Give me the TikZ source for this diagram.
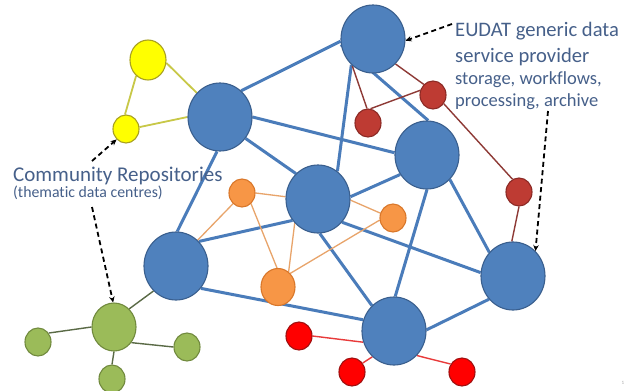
\documentclass[tikz,border=0pt]{standalone}
\usepackage{fontspec}
\setmainfont{Carlito}[Ligatures=NoCommon]
\usetikzlibrary{shapes.geometric,arrows.meta}
\pgfdeclarelayer{background}
\pgfsetlayers{background,main}

\definecolor{hubfill}{HTML}{4F81BD}
\definecolor{hubline}{HTML}{3A5F8E}
\definecolor{hubedge}{HTML}{4A7CBA}
\definecolor{yelfill}{HTML}{FFFF00}
\definecolor{yelline}{HTML}{A8A020}
\definecolor{yeledge}{HTML}{C8C848}
\definecolor{brickfill}{HTML}{BE3B33}
\definecolor{brickline}{HTML}{8C2A25}
\definecolor{brickedge}{HTML}{8E3A36}
\definecolor{orfill}{HTML}{F79646}
\definecolor{orline}{HTML}{D9772A}
\definecolor{oredge}{HTML}{E8A46A}
\definecolor{grfill}{HTML}{9BBB59}
\definecolor{grline}{HTML}{718A3E}
\definecolor{gredge}{HTML}{5A6A46}
\definecolor{redfill}{HTML}{FF0000}
\definecolor{redline}{HTML}{A01010}
\definecolor{rededge}{HTML}{E83A3A}
\definecolor{labeltext}{HTML}{46608A}

\tikzset{
  blob/.style={ellipse, inner sep=0pt, line width=1.1pt},
  hub/.style={blob, fill=hubfill, draw=hubline, minimum width=64pt, minimum height=68pt},
  yel/.style={blob, fill=yelfill, draw=yelline},
  brick/.style={blob, fill=brickfill, draw=brickline, minimum width=26pt, minimum height=28pt},
  orb/.style={blob, fill=orfill, draw=orline, minimum width=26pt, minimum height=28pt},
  grb/.style={blob, fill=grfill, draw=grline, minimum width=26pt, minimum height=28pt},
  redb/.style={blob, fill=redfill, draw=redline, minimum width=26pt, minimum height=28pt},
  hublink/.style={draw=hubedge, line width=3pt},
  yellink/.style={draw=yeledge, line width=1.8pt},
  bricklink/.style={draw=brickedge, line width=1.4pt},
  orlink/.style={draw=oredge, line width=1.3pt},
  grlink/.style={draw=gredge, line width=1.4pt},
  redlink/.style={draw=rededge, line width=1.4pt},
  pointer/.style={draw=black, line width=1.8pt, dash pattern=on 5pt off 3.5pt,
    -{Stealth[length=6pt,width=5.5pt]}},
  bigtext/.style={anchor=base west, inner sep=0pt, text=labeltext,
    font=\fontsize{21}{25}\selectfont},
  smalltext/.style={anchor=base west, inner sep=0pt, text=labeltext,
    font=\fontsize{18.5}{22}\selectfont},
}

\begin{document}
\begin{tikzpicture}[x=1pt, y=-1pt]
\useasboundingbox (0,0) rectangle (627,391);
\clip (0,0) rectangle (627,391);

% big hubs
\node[hub] (B1) at (373,39) {};
\node[hub] (B2) at (220,117) {};
\node[hub] (B3) at (427,155) {};
\node[hub] (B4) at (318,199) {};
\node[hub] (B5) at (176,266) {};
\node[hub] (B6) at (513,276) {};
\node[hub] (B7) at (394,331) {};

% yellow community
\node[yel, minimum width=36pt, minimum height=40pt] (Y1) at (148,60) {};
\node[yel, minimum width=26pt, minimum height=28pt] (Y2) at (126,129) {};

% dark red community
\node[brick] (R1) at (368,123) {};
\node[brick] (R2) at (433,95) {};
\node[brick] (R3) at (519,192) {};

% orange community
\node[orb] (O1) at (242,193) {};
\node[orb] (O2) at (393,218) {};
\node[orb, minimum width=34pt, minimum height=37pt] (O3) at (278,287) {};

% green community
\node[grb, minimum width=44pt, minimum height=48pt] (G1) at (114,327) {};
\node[grb] (G2) at (38,342) {};
\node[grb] (G3) at (187,347) {};
\node[grb] (G4) at (112,379) {};

% red community
\node[redb] (RR1) at (299,336) {};
\node[redb] (RR2) at (352,372) {};
\node[redb] (RR3) at (462,372) {};

\begin{pgfonlayer}{background}
  \fill[white] (0,0) rectangle (627,391);
  % backbone between hubs
  \path[hublink] (B2.51) -- (B1.184);
  \path[hublink] (B2.0) -- (B3.176);
  \path[hublink] (B2.-40) -- (B4.131);
  \path[hublink] (B2.265) -- (B5.88);
  \path[hublink] (B1.230) -- (B4.55);
  \path[hublink] (B1.190) -- (B3.88);
  \path[hublink] (B3.-47) -- (B6.135);
  \path[hublink] (B3.-90) -- (B7.88);
  \path[hublink] (B4.4) -- (B3.216);
  \path[hublink] (B5.47) -- (B4.220);
  \path[hublink] (B4.-87) -- (B7.131);
  \path[hublink] (B4.-44) -- (B6.174);
  \path[hublink] (B5.-42) -- (B7.160);
  \path[hublink] (B7.2) -- (B6.224);
  % yellow links
  \path[yellink] (Y1.-9) -- (B2.134);
  \path[yellink] (Y2.8) -- (B2.180);
  \path[yellink] (Y1.233) -- (Y2.94);
  % dark red links
  \path[bricklink] (B1.232) -- (R1.94);
  \path[bricklink] (B1.-48) -- (R2.131);
  \path[bricklink] (R1.80) -- (R2.160);
  \path[bricklink] (R2.-39) -- (R3.117);
  \path[bricklink] (R3.-90) -- (B6.92);
  % orange links
  \path[orlink] (O1.0) -- (B4.176);
  \path[orlink] (O1.230) -- (B5.50);
  \path[orlink] (O1.-50) -- (O3.93);
  \path[orlink] (O3.55) -- (B4.226);
  \path[orlink] (O3.48) -- (O2.189);
  \path[orlink] (B4.-2) -- (O2.159);
  % green links
  \path[grlink] (G1.50) -- (B5.228);
  \path[grlink] (G1.180) -- (G2.40);
  \path[grlink] (G1.-42) -- (G3.180);
  \path[grlink] (G1.-90) -- (G4.90);
  % red links
  \path[redlink] (RR1.0) -- (B7.200);
  \path[redlink] (RR2.40) -- (B7.230);
  \path[redlink] (B7.-47) -- (RR3.145);
\end{pgfonlayer}

% labels
\node[bigtext, font=\fontsize{20.6}{25}\selectfont] (eudat1) at (455,36) {EUDAT generic data};
\node[bigtext, font=\fontsize{20.6}{25}\selectfont] (eudat2) at (455,62) {service provider};
\node[smalltext] (eudat3) at (455,84) {storage, workflows,};
\node[smalltext] (eudat4) at (455,106) {processing, archive};
\node[bigtext] (comm1) at (13,181) {Community Repositories};
\node[smalltext, font=\fontsize{15.8}{19}\selectfont] (comm2) at (13,197) {(thematic data centres)};
\node[anchor=center, inner sep=0pt, text=black!35, font=\fontsize{5}{6}\selectfont] (pageno) at (623,383) {1};

% dashed pointers
\coordinate (pA) at (452,24);
\coordinate (pB) at (548,111);
\coordinate (pC) at (92,161);
\coordinate (pD) at (92,207);
\draw[pointer] (pA) -- (B1.-3);
\draw[pointer] (pB) -- (B6.48);
\draw[pointer] (pC) -- (Y2.228);
\draw[pointer] (pD) -- (G1.92);
\end{tikzpicture}
\end{document}
